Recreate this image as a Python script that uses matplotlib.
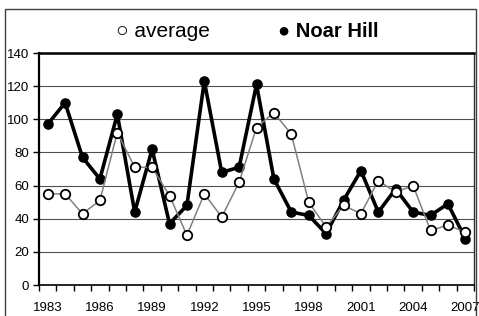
import numpy as np
import matplotlib
matplotlib.use("Agg")
from matplotlib import pyplot as plt
from matplotlib.patches import Rectangle

plt.rcParams['font.family'] = ['Liberation Sans', 'DejaVu Sans']

# Data
years = list(range(1983, 2008))
noar_hill = [97, 110, 77, 64, 103, 44, 82, 37, 48, 123, 68, 71, 121, 64, 44,
             42, 31, 51, 69, 44, 58, 44, 42, 49, 28]
average = [55, 55, 43, 51, 92, 71, 71, 54, 30, 55, 41, 62, 95, 104, 91,
           50, 35, 48, 43, 63, 56, 60, 33, 36, 32]
tick_years = list(range(1983, 2008, 3))

fig = plt.figure(figsize=(4.79, 3.16), dpi=100)
ax = fig.add_axes([39 / 479, (316 - 285) / 316, (474 - 39) / 479, (285 - 53) / 316])

x = np.arange(len(years))
ax.plot(x, noar_hill, color='black', lw=2.6, marker='o', ms=6.6,
        mfc='black', mec='black', zorder=3)
ax.plot(x, average, color='#808080', lw=1.1, marker='o', ms=6.8,
        mfc='white', mec='black', mew=1.3, zorder=4)

ax.set_xlim(-0.5, len(years) - 0.5)
ax.set_ylim(0, 140)
ax.set_yticks(range(0, 141, 20))
ax.yaxis.grid(True, color='#505050', lw=0.8)
ax.set_axisbelow(True)

# category ticks between points, labels every 3 years
ax.set_xticks(np.arange(-0.5, len(years)), minor=False)
ax.set_xticklabels([])
ax.set_xticks([years.index(y) for y in tick_years], minor=True)
ax.set_xticklabels([str(y) for y in tick_years], minor=True)
ax.tick_params(axis='x', which='major', length=4, width=1, direction='out')
ax.tick_params(axis='x', which='minor', length=0, pad=12, labelsize=9.5)
ax.tick_params(axis='y', length=4, width=1, labelsize=9.5, pad=3)

ax.spines['left'].set_linewidth(1.6)
ax.spines['bottom'].set_linewidth(1.2)
ax.spines['top'].set_linewidth(1.8)
ax.spines['right'].set_linewidth(1.0)
ax.spines['right'].set_color('#303030')

# legend as text
fig.text(0.34, 0.899, '\u25cb average', ha='center', va='center', fontsize=15)
fig.text(0.686, 0.899, '\u25cf Noar Hill', ha='center', va='center', fontsize=14.5,
         fontweight='bold')

# chart border
fig.patches.append(Rectangle((5 / 479, -0.1), 471 / 479, (316 - 9) / 316 + 0.1,
                             transform=fig.transFigure, fill=False,
                             edgecolor='#404040', lw=1.0))

fig.savefig("out.png", dpi=100)
